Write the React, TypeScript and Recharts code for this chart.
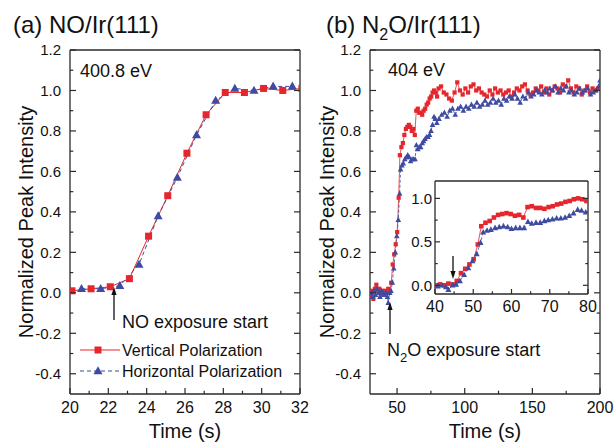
import { LineChart, Line, XAxis, YAxis, Legend } from 'recharts';

const FONT = '"Liberation Sans", Arial, Helvetica, sans-serif';
const RED = '#e5262c';
const BLUE = '#3f4ba0';
const AXIS = '#2a2a2a';

// (a) NO/Ir(111) at 400.8 eV
const noTimeV = [20.1, 21.1, 22.1, 23.1, 24.1, 25.1, 26.1, 27.1, 28.1, 29.1, 30.1, 31.1, 32.1];
const noVert = [0.01, 0.02, 0.03, 0.07, 0.28, 0.48, 0.69, 0.88, 0.99, 0.99, 1.01, 1.0, 1.01];
const noTimeH = [20.6, 21.6, 22.6, 23.6, 24.6, 25.6, 26.6, 27.6, 28.6, 29.6, 30.6, 31.6];
const noHoriz = [0.02, 0.02, 0.035, 0.14, 0.38, 0.57, 0.78, 0.95, 1.01, 1.0, 1.02, 1.02];

// (b) N2O/Ir(111) at 404 eV
const n2oTimeV = [
  30.3, 31.4, 32.5, 33.6, 34.7, 35.8, 36.9, 38.0, 39.1, 40.2, 41.3, 42.4, 43.5, 44.6, 45.7,
  46.8, 47.9, 49.0, 50.1, 51.2, 52.1, 53.2, 54.3, 55.4, 56.5, 57.6, 58.7, 59.8, 60.9, 62.0,
  63.1, 64.2, 65.3, 66.4, 67.5, 68.6, 69.7, 70.8, 71.9, 73.0, 74.1, 75.2, 76.3, 77.4, 78.5,
  79.6, 80.7, 82.5, 84.5, 86.5, 88.5, 90.5, 92.5, 94.5, 96.5, 98.5, 100.5, 102.5, 104.5,
  106.5, 108.5, 110.5, 112.5, 114.5, 116.5, 118.5, 120.5, 122.5, 124.5, 126.5, 128.5, 130.5,
  132.5, 134.5, 136.5, 138.5, 140.5, 142.5, 144.5, 146.5, 148.5, 150.5, 152.5, 154.5, 156.5,
  158.5, 160.5, 162.5, 164.5, 166.5, 168.5, 170.5, 172.5, 174.5, 176.5, 178.5, 180.5, 182.5,
  184.5, 186.5, 188.5, 190.5, 192.5, 194.5, 196.5, 198.5,
];
const n2oVert = [
  -0.02, 0.01, -0.03, 0.02, 0.04, 0.01, 0.02, -0.01, 0.01, 0.0, 0.01, 0.0, 0.02, 0.01, 0.05,
  0.14, 0.19, 0.24, 0.3, 0.47, 0.68, 0.72, 0.74, 0.78, 0.81, 0.82, 0.83, 0.82, 0.8, 0.81,
  0.78, 0.9, 0.91, 0.89, 0.89, 0.88, 0.9, 0.91, 0.93, 0.94, 0.96, 0.97, 0.99, 1.0, 0.99,
  0.97, 1.01, 1.02, 0.99, 0.98, 0.96, 0.95, 0.99, 1.04, 1.0, 0.98, 1.01, 0.99, 1.02,
  1.03, 1.0, 1.01, 0.99, 0.98, 0.97, 1.0, 0.98, 1.01, 0.99, 1.0, 0.98, 0.99,
  1.0, 0.97, 0.99, 1.01, 1.0, 1.02, 1.03, 1.0, 0.98, 0.99, 1.01, 1.0, 1.02,
  0.99, 1.01, 0.98, 1.0, 1.02, 1.01, 0.99, 1.03, 1.02, 1.05, 1.01, 0.99, 1.02,
  1.01, 0.98, 1.0, 1.02, 0.99, 1.01, 1.0, 1.01,
];
const n2oTimeH = [
  30.8, 31.9, 33.0, 34.1, 35.2, 36.3, 37.4, 38.5, 39.6, 40.7, 41.8, 42.9, 43.5, 44.6, 45.5,
  46.5, 47.6, 48.7, 49.8, 50.9, 51.9, 52.6, 53.6, 54.6, 55.7, 56.8, 57.9, 59.0, 60.0, 61.1,
  62.2, 63.3, 64.3, 65.3, 66.4, 67.5, 68.6, 69.6, 70.7, 71.8, 72.9, 74.0, 75.1, 76.2, 77.3,
  78.3, 79.4, 81, 83, 85, 87, 89, 91, 93, 95, 97, 99, 101, 103, 105, 107, 109, 111, 113,
  115, 117, 119, 121, 123, 125, 127, 129, 131, 133, 135, 137, 139, 141, 143, 145, 147, 149,
  151, 153, 155, 157, 159, 161, 163, 165, 167, 169, 171, 173, 175, 177, 179, 181, 183, 185,
  187, 189, 191, 193, 195, 197, 199, 200,
];
const n2oHoriz = [
  0.0, -0.02, 0.01, -0.01, 0.02, 0.0, -0.02, 0.01, 0.0, -0.01, 0.0, -0.02, -0.05, 0.0, 0.01,
  0.05, 0.12, 0.2, 0.28, 0.36, 0.49, 0.61, 0.63, 0.64, 0.66, 0.67, 0.68, 0.67, 0.65, 0.66,
  0.66, 0.66, 0.73, 0.71, 0.72, 0.72, 0.74, 0.75, 0.76, 0.77, 0.77, 0.78, 0.8, 0.83, 0.87,
  0.86, 0.84, 0.86, 0.88, 0.89, 0.87, 0.9, 0.91, 0.88, 0.91, 0.92, 0.9, 0.92, 0.91, 0.93,
  0.92, 0.94, 0.92, 0.93, 0.95, 0.93, 0.94, 0.96, 0.94, 0.95, 0.93, 0.96, 0.95, 0.97, 0.96,
  0.98, 0.96, 0.94, 0.97, 0.96, 0.99, 0.97, 0.98, 1.0, 0.99, 0.98, 1.0, 0.99, 1.01, 1.0,
  1.02, 0.99, 1.01, 1.0, 1.02, 0.99, 1.0, 0.98, 0.99, 1.01, 0.99, 1.0, 1.01, 0.98, 0.99,
  1.0, 1.02, 1.05,
];

const seriesNames = ['Vertical Polarization', 'Horizontal Polarization'];

// ticks
const noXTicks = [20, 21, 22, 23, 24, 25, 26, 27, 28, 29, 30, 31, 32];
const noXLabels = [20, 22, 24, 26, 28, 30, 32];
const n2oXTicks = [50, 75, 100, 125, 150, 175, 200];
const n2oXLabels = [50, 100, 150, 200];
const yTicks = [-0.4, -0.3, -0.2, -0.1, 0, 0.1, 0.2, 0.3, 0.4, 0.5, 0.6, 0.7, 0.8, 0.9, 1.0, 1.1, 1.2];
const yLabels = [-0.4, -0.2, 0, 0.2, 0.4, 0.6, 0.8, 1.0, 1.2];
const insetXTicks = [40, 45, 50, 55, 60, 65, 70, 75, 80];
const insetXLabels = [40, 50, 60, 70, 80];
const insetYTicks = [0, 0.25, 0.5, 0.75, 1.0];
const insetYLabels = [0, 0.5, 1.0];

const toPts = (ts: number[], vs: number[]) => ts.map((t, i) => ({ t, v: vs[i] }));
const noVertData = toPts(noTimeV, noVert);
const noHorizData = toPts(noTimeH, noHoriz);
const n2oVertData = toPts(n2oTimeV, n2oVert);
const n2oHorizData = toPts(n2oTimeH, n2oHoriz);

type Side = 'bottom' | 'top' | 'left' | 'right';

const mkTick =
  (side: Side, majors: number[], showLabel: boolean, len: number, fs: number, gap: number, fmt: (v: number) => string) =>
  (p: any) => {
    const { x, y, payload } = p;
    const v = payload.value;
    const isMajor = majors.some((m) => Math.abs(m - v) < 1e-6);
    const l = isMajor ? len : len * 0.55;
    let x2 = x;
    let y2 = y;
    if (side === 'bottom') y2 = y - l;
    if (side === 'top') y2 = y + l;
    if (side === 'left') x2 = x + l;
    if (side === 'right') x2 = x - l;
    return (
      <g key={`${side}-${v}`}>
        <line x1={x} y1={y} x2={x2} y2={y2} stroke={AXIS} strokeWidth={1.2} />
        {showLabel && isMajor && side === 'bottom' && (
          <text x={x} y={y + gap} textAnchor="middle" fontSize={fs} fontFamily={FONT} fill="#111">
            {fmt(v)}
          </text>
        )}
        {showLabel && isMajor && side === 'left' && (
          <text x={x - gap} y={y} dy="0.36em" textAnchor="end" fontSize={fs} fontFamily={FONT} fill="#111">
            {fmt(v)}
          </text>
        )}
      </g>
    );
  };

const fmtInt = (v: number) => String(v);
const fmt1 = (v: number) => v.toFixed(1);

const square = (size: number, color: string) => (p: any) => {
  if (p.cx == null || p.cy == null) return <g key={`s-${p.index}`} />;
  return (
    <rect key={`s-${p.index}`} x={p.cx - size / 2} y={p.cy - size / 2} width={size} height={size} fill={color} />
  );
};

const triangle = (w: number, h: number, color: string) => (p: any) => {
  if (p.cx == null || p.cy == null) return <g key={`t-${p.index}`} />;
  const { cx, cy } = p;
  return (
    <polygon
      key={`t-${p.index}`}
      points={`${cx},${cy - h * 0.6} ${cx - w / 2},${cy + h * 0.4} ${cx + w / 2},${cy + h * 0.4}`}
      fill={color}
    />
  );
};

const axisLine = { stroke: AXIS, strokeWidth: 1.3 };

// axes are 1px thick (recharts skips zero-sized axes); margins account for it
function boxAxes(
  xDomain: number[],
  xTicks: number[],
  xLabels: number[],
  yDomain: number[],
  yT: number[],
  yL: number[],
  len: number,
  fsX: number,
  fsY: number,
  gapX: number,
  gapY: number,
) {
  return [
    <XAxis
      key="xb"
      xAxisId={0}
      type="number"
      dataKey="t"
      domain={xDomain}
      ticks={xTicks}
      interval={0}
      height={1}
      tickSize={0}
      tickMargin={0}
      tickLine={false}
      axisLine={axisLine}
      allowDataOverflow
      tick={mkTick('bottom', xLabels, true, len, fsX, gapX, fmtInt)}
    />,
    <XAxis
      key="xt"
      xAxisId="top"
      orientation="top"
      type="number"
      domain={xDomain}
      ticks={xTicks}
      interval={0}
      height={1}
      tickSize={0}
      tickMargin={0}
      tickLine={false}
      axisLine={axisLine}
      allowDataOverflow
      tick={mkTick('top', xLabels, false, len, fsX, gapX, fmtInt)}
    />,
    <YAxis
      key="yl"
      yAxisId={0}
      type="number"
      domain={yDomain}
      ticks={yT}
      interval={0}
      width={1}
      tickSize={0}
      tickMargin={0}
      tickLine={false}
      axisLine={axisLine}
      allowDataOverflow
      tick={mkTick('left', yL, true, len, fsY, gapY, fmt1)}
    />,
    <YAxis
      key="yr"
      yAxisId="right"
      orientation="right"
      type="number"
      domain={yDomain}
      ticks={yT}
      interval={0}
      width={1}
      tickSize={0}
      tickMargin={0}
      tickLine={false}
      axisLine={axisLine}
      allowDataOverflow
      tick={mkTick('right', yL, false, len, fsY, gapY, fmt1)}
    />,
  ];
}

function LegendBox() {
  return (
    <svg width={240} height={44} style={{ display: 'block' }}>
      {seriesNames.map((name, i) => {
        const y = 11 + i * 21;
        const c = i === 0 ? RED : BLUE;
        return (
          <g key={name}>
            <line x1={2} x2={42} y1={y} y2={y} stroke={c} strokeWidth={1} strokeDasharray={i === 0 ? undefined : '4 3'} />
            {i === 0 ? (
              <rect x={16.5} y={y - 3.5} width={7} height={7} fill={c} />
            ) : (
              <polygon points={`20,${y - 4.8} ${15.5},${y + 3.2} ${24.5},${y + 3.2}`} fill={c} />
            )}
            <text x={44} y={y} dy="0.36em" fontSize={16} fontFamily={FONT} fill="#111">
              {name}
            </text>
          </g>
        );
      })}
    </svg>
  );
}

function Arrow({ x, from, to }: { x: number; from: number; to: number }) {
  const dir = to < from ? 1 : -1;
  return (
    <g>
      <line x1={x} y1={from} x2={x} y2={to + dir * 6} stroke="#111" strokeWidth={1.3} />
      <polygon points={`${x},${to} ${x - 2.6},${to + dir * 8} ${x + 2.6},${to + dir * 8}`} fill="#111" />
    </g>
  );
}

export default function App() {
  return (
    <div style={{ position: 'absolute', left: 0, top: 0, width: 615, height: 443, background: '#fff', fontFamily: FONT }}>
      <div style={{ position: 'absolute', left: 0, top: 0 }}>
        <LineChart width={310} height={443} margin={{ top: 49, right: 9, bottom: 48, left: 69 }}>
          {boxAxes([20, 32], noXTicks, noXLabels, [-0.5, 1.2], yTicks, yLabels, 6, 16, 15, 19, 9)}
          <Line
            data={noVertData}
            dataKey="v"
            name={seriesNames[0]}
            type="linear"
            stroke={RED}
            strokeWidth={1}
            dot={square(7, RED)}
            isAnimationActive={false}
          />
          <Line
            data={noHorizData}
            dataKey="v"
            name={seriesNames[1]}
            type="linear"
            stroke={BLUE}
            strokeWidth={1}
            strokeDasharray="4 3"
            dot={triangle(9, 8, BLUE)}
            isAnimationActive={false}
          />
          <Legend
            layout="vertical"
            align="center"
            verticalAlign="middle"
            content={LegendBox}
            wrapperStyle={{ left: 78, top: 339, width: 240, height: 44 }}
          />
        </LineChart>
      </div>

      <div style={{ position: 'absolute', left: 310, top: 0 }}>
        <LineChart width={305} height={443} margin={{ top: 49, right: 14, bottom: 48, left: 59 }}>
          {boxAxes([30, 200], n2oXTicks, n2oXLabels, [-0.5, 1.2], yTicks, yLabels, 6, 16, 15, 19, 9)}
          <Line
            data={n2oVertData}
            dataKey="v"
            name={seriesNames[0]}
            type="linear"
            stroke={RED}
            strokeWidth={0.8}
            dot={square(4.2, RED)}
            isAnimationActive={false}
          />
          <Line
            data={n2oHorizData}
            dataKey="v"
            name={seriesNames[1]}
            type="linear"
            stroke={BLUE}
            strokeWidth={0.8}
            strokeDasharray="3 2"
            dot={triangle(5.6, 5.2, BLUE)}
            isAnimationActive={false}
          />
        </LineChart>
      </div>

      <div style={{ position: 'absolute', left: 395, top: 170 }}>
        <LineChart width={210} height={150} margin={{ top: 10, right: 16, bottom: 25, left: 39 }}>
          {boxAxes([40, 80], insetXTicks, insetXLabels, [-0.1, 1.2], insetYTicks, insetYLabels, 5, 16, 15, 18, 3)}
          <Line
            data={n2oVertData}
            dataKey="v"
            type="linear"
            stroke={RED}
            strokeWidth={0.8}
            dot={square(4.6, RED)}
            isAnimationActive={false}
          />
          <Line
            data={n2oHorizData}
            dataKey="v"
            type="linear"
            stroke={BLUE}
            strokeWidth={0.8}
            strokeDasharray="3 2"
            dot={triangle(6, 5.6, BLUE)}
            isAnimationActive={false}
          />
        </LineChart>
      </div>

      <svg
        width={615}
        height={443}
        style={{ position: 'absolute', left: 0, top: 0, pointerEvents: 'none' }}
        fontFamily={FONT}
        fill="#111"
      >
        <text x={13} y={33} fontSize={24}>(a) NO/Ir(111)</text>
        <text x={326} y={33} fontSize={24}>
          (b) N<tspan fontSize={16} dy={7}>2</tspan>
          <tspan dy={-7}>O/Ir(111)</tspan>
        </text>

        <text transform="translate(33,222) rotate(-90)" textAnchor="middle" fontSize={20}>Normalized Peak Intensity</text>
        <text transform="translate(334,222) rotate(-90)" textAnchor="middle" fontSize={20}>Normalized Peak Intensity</text>
        <text x={185} y={438} textAnchor="middle" fontSize={20}>Time (s)</text>
        <text x={485} y={438} textAnchor="middle" fontSize={20}>Time (s)</text>

        <text x={80} y={77} fontSize={18}>400.8 eV</text>
        <text x={388} y={76} fontSize={18}>404 eV</text>

        <Arrow x={114} from={320} to={287} />
        <text x={122} y={328} fontSize={18}>NO exposure start</text>

        <Arrow x={390} from={334} to={302} />
        <text x={387} y={356} fontSize={18}>
          N<tspan fontSize={13} dy={6}>2</tspan>
          <tspan dy={-6}>O exposure start</tspan>
        </text>

        <Arrow x={453} from={256} to={279} />
      </svg>
    </div>
  );
}
